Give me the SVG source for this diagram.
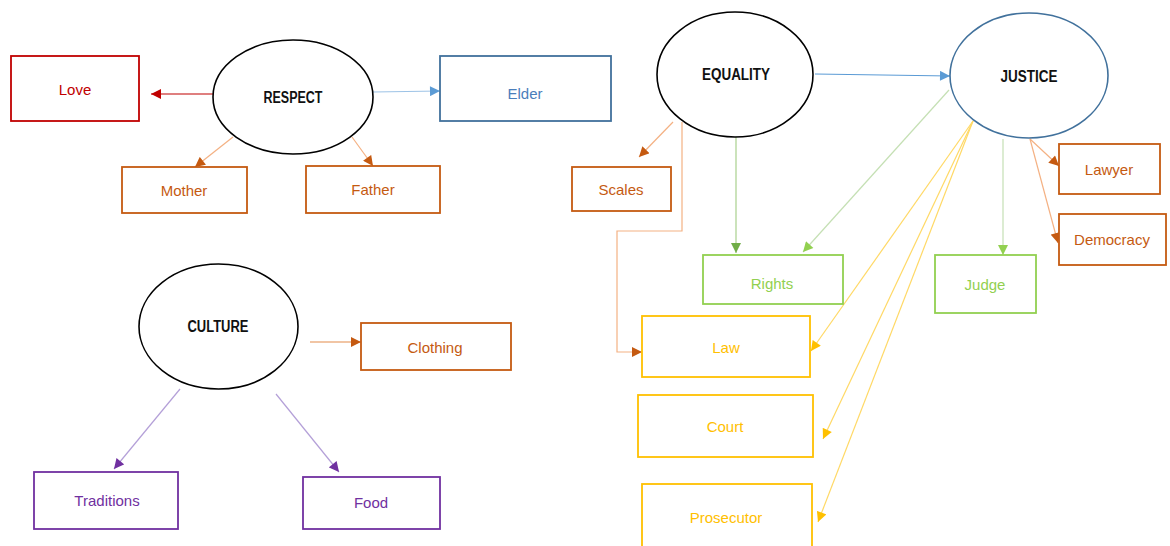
<svg xmlns="http://www.w3.org/2000/svg" width="1170" height="546" viewBox="0 0 1170 546">
  <style>
    .hub { fill: #ffffff; stroke: #000000; stroke-width: 1.6; }
    .hub-blue { fill: #ffffff; stroke: #41719C; stroke-width: 1.6; }
    .title { font-family: "Liberation Sans", Arial, sans-serif; font-size: 16px; font-weight: bold; fill: #111111; text-anchor: middle; dominant-baseline: central; }
    .label { font-family: "Liberation Sans", Arial, sans-serif; font-size: 15px; text-anchor: middle; dominant-baseline: central; }
    .box { fill: #ffffff; stroke-width: 1.8; }
    .red { stroke: #C00000; } .red-t { fill: #C00000; }
    .blue { stroke: #41719C; } .blue-t { fill: #4A7EBB; }
    .orange { stroke: #C55A11; } .orange-t { fill: #C55A11; }
    .green { stroke: #92D050; } .green-t { fill: #92D050; }
    .yellow { stroke: #FFC000; } .yellow-t { fill: #FFC000; }
    .purple { stroke: #7030A0; } .purple-t { fill: #7030A0; }
    .link { fill: none; stroke-width: 1.2; }
  </style>
  <defs>
    <marker id="ah-red" viewBox="0 0 10 10" refX="10" refY="5" markerWidth="12" markerHeight="10" markerUnits="userSpaceOnUse" orient="auto"><path d="M0,0 L10,5 L0,10 z" fill="#C00000"/></marker>
    <marker id="ah-blue" viewBox="0 0 10 10" refX="10" refY="5" markerWidth="11" markerHeight="10" markerUnits="userSpaceOnUse" orient="auto"><path d="M0,0 L10,5 L0,10 z" fill="#5B9BD5"/></marker>
    <marker id="ah-orange" viewBox="0 0 10 10" refX="10" refY="5" markerWidth="11" markerHeight="10" markerUnits="userSpaceOnUse" orient="auto"><path d="M0,0 L10,5 L0,10 z" fill="#C55A11"/></marker>
    <marker id="ah-green" viewBox="0 0 10 10" refX="10" refY="5" markerWidth="11" markerHeight="10" markerUnits="userSpaceOnUse" orient="auto"><path d="M0,0 L10,5 L0,10 z" fill="#70AD47"/></marker>
    <marker id="ah-lgreen" viewBox="0 0 10 10" refX="10" refY="5" markerWidth="11" markerHeight="10" markerUnits="userSpaceOnUse" orient="auto"><path d="M0,0 L10,5 L0,10 z" fill="#92D050"/></marker>
    <marker id="ah-yellow" viewBox="0 0 10 10" refX="10" refY="5" markerWidth="11" markerHeight="10" markerUnits="userSpaceOnUse" orient="auto"><path d="M0,0 L10,5 L0,10 z" fill="#FFC000"/></marker>
    <marker id="ah-purple" viewBox="0 0 10 10" refX="10" refY="5" markerWidth="11" markerHeight="10" markerUnits="userSpaceOnUse" orient="auto"><path d="M0,0 L10,5 L0,10 z" fill="#7030A0"/></marker>
  </defs>

  <!-- connectors -->
  <g id="connectors">
    <line class="link" x1="213" y1="94" x2="151" y2="94" stroke="#C00000" stroke-width="1.6" marker-end="url(#ah-red)"/>
    <line class="link" x1="373" y1="92" x2="440" y2="91" stroke="#9DC3E6" marker-end="url(#ah-blue)"/>
    <line class="link" x1="233" y1="137" x2="195" y2="167" stroke="#F4B183" marker-end="url(#ah-orange)"/>
    <line class="link" x1="352" y1="137" x2="373" y2="166" stroke="#F4B183" marker-end="url(#ah-orange)"/>

    <line class="link" x1="815" y1="74" x2="950" y2="76" stroke="#5B9BD5" marker-end="url(#ah-blue)"/>
    <line class="link" x1="673" y1="122" x2="639" y2="157" stroke="#F4B183" marker-end="url(#ah-orange)"/>
    <polyline class="link" points="682,122 682,231 617,231 617,352 642,352" stroke="#F4B183" marker-end="url(#ah-orange)"/>
    <line class="link" x1="736" y1="137" x2="736" y2="253" stroke="#A9D18E" marker-end="url(#ah-green)"/>
    <line class="link" x1="949" y1="90" x2="803" y2="252" stroke="#C5E0B4" marker-end="url(#ah-lgreen)"/>
    <line class="link" x1="1003" y1="139" x2="1003" y2="255" stroke="#C5E0B4" marker-end="url(#ah-lgreen)"/>
    <line class="link" x1="1030" y1="139" x2="1059" y2="166" stroke="#F4B183" marker-end="url(#ah-orange)"/>
    <line class="link" x1="1030" y1="139" x2="1058" y2="243" stroke="#F4B183" marker-end="url(#ah-orange)"/>
    <line class="link" x1="973" y1="121" x2="811" y2="351" stroke="#FFD966" marker-end="url(#ah-yellow)"/>
    <line class="link" x1="973" y1="121" x2="823" y2="439" stroke="#FFD966" marker-end="url(#ah-yellow)"/>
    <line class="link" x1="973" y1="121" x2="818" y2="522" stroke="#FFD966" marker-end="url(#ah-yellow)"/>

    <line class="link" x1="310" y1="342" x2="361" y2="342" stroke="#E48B4A" marker-end="url(#ah-orange)"/>
    <line class="link" x1="180" y1="389" x2="114" y2="469" stroke="#B4A0D8" marker-end="url(#ah-purple)"/>
    <line class="link" x1="276" y1="394" x2="339" y2="472" stroke="#B4A0D8" marker-end="url(#ah-purple)"/>
  </g>

  <!-- RESPECT cluster -->
  <g id="respect"><ellipse class="hub" cx="293" cy="97" rx="80" ry="57"/><text class="title" x="293" y="97" textLength="59" lengthAdjust="spacingAndGlyphs">RESPECT</text></g>
  <g id="love"><rect class="box red" x="11" y="56" width="128" height="65"/><text class="label red-t" x="75" y="89">Love</text></g>
  <g id="elder"><rect class="box blue" x="440" y="56" width="171" height="65"/><text class="label blue-t" x="525" y="93">Elder</text></g>
  <g id="mother"><rect class="box orange" x="122" y="167" width="125" height="46"/><text class="label orange-t" x="184" y="190">Mother</text></g>
  <g id="father"><rect class="box orange" x="306" y="166" width="134" height="47"/><text class="label orange-t" x="373" y="189">Father</text></g>

  <!-- EQUALITY / JUSTICE cluster -->
  <g id="equality"><ellipse class="hub" cx="735" cy="74.5" rx="78" ry="62.5"/><text class="title" x="736" y="74" textLength="68" lengthAdjust="spacingAndGlyphs">EQUALITY</text></g>
  <g id="justice"><ellipse class="hub-blue" cx="1029" cy="75.5" rx="79" ry="62.5"/><text class="title" x="1029" y="76" textLength="57" lengthAdjust="spacingAndGlyphs">JUSTICE</text></g>
  <g id="scales"><rect class="box orange" x="572" y="167" width="99" height="44"/><text class="label orange-t" x="621" y="189">Scales</text></g>
  <g id="rights"><rect class="box green" x="703" y="255" width="140" height="49"/><text class="label green-t" x="772" y="283">Rights</text></g>
  <g id="judge"><rect class="box green" x="935" y="255" width="101" height="58"/><text class="label green-t" x="985" y="284">Judge</text></g>
  <g id="lawyer"><rect class="box orange" x="1059" y="144" width="101" height="50"/><text class="label orange-t" x="1109" y="169">Lawyer</text></g>
  <g id="democracy"><rect class="box orange" x="1059" y="214" width="107" height="51"/><text class="label orange-t" x="1112" y="239">Democracy</text></g>
  <g id="law"><rect class="box yellow" x="642" y="316" width="168" height="61"/><text class="label yellow-t" x="726" y="347">Law</text></g>
  <g id="court"><rect class="box yellow" x="638" y="395" width="175" height="62"/><text class="label yellow-t" x="725" y="426">Court</text></g>
  <g id="prosecutor"><rect class="box yellow" x="642" y="484" width="170" height="80"/><text class="label yellow-t" x="726" y="517">Prosecutor</text></g>

  <!-- CULTURE cluster -->
  <g id="culture"><ellipse class="hub" cx="218.5" cy="326.5" rx="79.5" ry="62.5"/><text class="title" x="218" y="326" textLength="61" lengthAdjust="spacingAndGlyphs">CULTURE</text></g>
  <g id="clothing"><rect class="box orange" x="361" y="323" width="150" height="47"/><text class="label orange-t" x="435" y="347">Clothing</text></g>
  <g id="traditions"><rect class="box purple" x="34" y="472" width="144" height="57"/><text class="label purple-t" x="107" y="500">Traditions</text></g>
  <g id="food"><rect class="box purple" x="303" y="477" width="137" height="52"/><text class="label purple-t" x="371" y="502">Food</text></g>
</svg>
